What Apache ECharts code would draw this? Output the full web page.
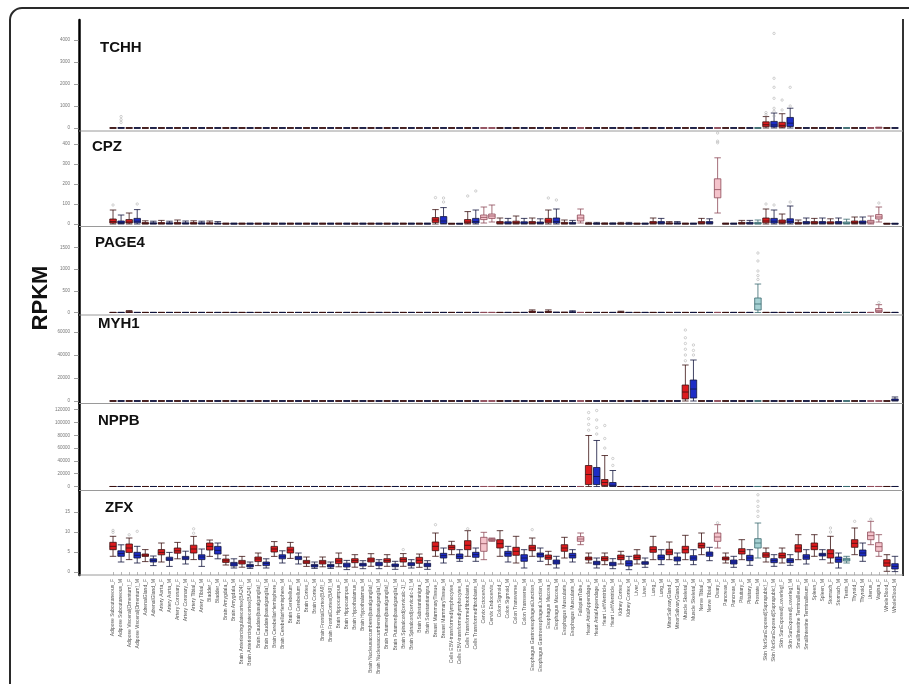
<!DOCTYPE html>
<html><head><meta charset="utf-8">
<script src="https://cdn.jsdelivr.net/npm/echarts@6/dist/echarts.min.js"></script>
<style>html,body{margin:0;padding:0;background:#fff}#c{width:909px;height:684px}</style>
</head><body><div id="c"></div>
<script>
const categories = ["Adipose Subcutaneous_F","Adipose Subcutaneous_M","Adipose Visceral(Omentum)_F","Adipose Visceral(Omentum)_M","AdrenalGland_F","AdrenalGland_M","Artery Aorta_F","Artery Aorta_M","Artery Coronary_F","Artery Coronary_M","Artery Tibial_F","Artery Tibial_M","Bladder_F","Bladder_M","Brain Amygdala_F","Brain Amygdala_M","Brain Anteriorcingulatecortex(BA24)_F","Brain Anteriorcingulatecortex(BA24)_M","Brain Caudate(basalganglia)_F","Brain Caudate(basalganglia)_M","Brain CerebellarHemisphere_F","Brain CerebellarHemisphere_M","Brain Cerebellum_F","Brain Cerebellum_M","Brain Cortex_F","Brain Cortex_M","Brain FrontalCortex(BA9)_F","Brain FrontalCortex(BA9)_M","Brain Hippocampus_F","Brain Hippocampus_M","Brain Hypothalamus_F","Brain Hypothalamus_M","Brain Nucleusaccumbens(basalganglia)_F","Brain Nucleusaccumbens(basalganglia)_M","Brain Putamen(basalganglia)_F","Brain Putamen(basalganglia)_M","Brain Spinalcord(cervicalc-1)_F","Brain Spinalcord(cervicalc-1)_M","Brain Substantianigra_F","Brain Substantianigra_M","Breast MammaryTissue_F","Breast MammaryTissue_M","Cells EBV-transformedlymphocytes_F","Cells EBV-transformedlymphocytes_M","Cells Transformedfibroblasts_F","Cells Transformedfibroblasts_M","Cervix Ectocervix_F","Cervix Endocervix_F","Colon Sigmoid_F","Colon Sigmoid_M","Colon Transverse_F","Colon Transverse_M","Esophagus GastroesophagealJunction_F","Esophagus GastroesophagealJunction_M","Esophagus Mucosa_F","Esophagus Mucosa_M","Esophagus Muscularis_F","Esophagus Muscularis_M","FallopianTube_F","Heart AtrialAppendage_F","Heart AtrialAppendage_M","Heart LeftVentricle_F","Heart LeftVentricle_M","Kidney Cortex_F","Kidney Cortex_M","Liver_F","Liver_M","Lung_F","Lung_M","MinorSalivaryGland_F","MinorSalivaryGland_M","Muscle Skeletal_F","Muscle Skeletal_M","Nerve Tibial_F","Nerve Tibial_M","Ovary_F","Pancreas_F","Pancreas_M","Pituitary_F","Pituitary_M","Prostate_M","Skin NotSunExposed(Suprapubic)_F","Skin NotSunExposed(Suprapubic)_M","Skin SunExposed(Lowerleg)_F","Skin SunExposed(Lowerleg)_M","SmallIntestine TerminalIleum_F","SmallIntestine TerminalIleum_M","Spleen_F","Spleen_M","Stomach_F","Stomach_M","Testis_M","Thyroid_F","Thyroid_M","Uterus_F","Vagina_F","WholeBlood_F","WholeBlood_M"];

const femaleOnly = ["Cervix Ectocervix_F","Cervix Endocervix_F","FallopianTube_F","Ovary_F","Uterus_F","Vagina_F"];
const maleOnly = ["Prostate_M","Testis_M"];

const ticksTCHH = [0,1000,2000,3000,4000];
const ticksCPZ = [0,100,200,300,400];
const ticksPAGE4 = [0,500,1000,1500];
const ticksMYH1 = [0,20000,40000,60000];
const ticksNPPB = [0,20000,40000,60000,80000,100000,120000];
const ticksZFX = [0,5,10,15];

// [min, Q1, median, Q3, max]
const boxTCHH = [
[0,0,0,1,3],[0,0,1,3,12],[0,0,0,1,3],[0,0,1,2,5],[0,0,0,1,3],[0,0,0,1,3],[0,0,0,1,3],[0,0,0,1,3],[0,0,0,1,3],[0,0,0,1,3],
[0,0,0,1,3],[0,0,0,1,3],[0,0,0,1,3],[0,0,0,1,3],[0,0,0,1,2],[0,0,0,1,2],[0,0,0,1,2],[0,0,0,1,2],[0,0,0,1,2],[0,0,0,1,2],
[0,0,0,1,2],[0,0,0,1,2],[0,0,0,1,2],[0,0,0,1,2],[0,0,0,1,2],[0,0,0,1,2],[0,0,0,1,2],[0,0,0,1,2],[0,0,0,1,2],[0,0,0,1,2],
[0,0,0,1,2],[0,0,0,1,2],[0,0,0,1,2],[0,0,0,1,2],[0,0,0,1,2],[0,0,0,1,2],[0,0,0,1,2],[0,0,0,1,2],[0,0,0,1,2],[0,0,0,1,2],
[0,0,0,1,3],[0,0,0,1,3],[0,0,0,1,3],[0,0,0,1,3],[0,0,0,1,3],[0,0,0,1,3],[0,0,0,1,3],[0,0,0,1,3],[0,0,0,1,3],[0,0,0,1,3],
[0,0,0,1,3],[0,0,0,1,3],[0,0,0,1,3],[0,0,0,1,3],[0,0,0,1,3],[0,0,0,1,3],[0,0,0,1,3],[0,0,0,1,3],[0,0,0,1,3],[0,0,0,1,3],
[0,0,0,1,3],[0,0,0,1,3],[0,0,0,1,3],[0,0,0,1,3],[0,0,0,1,3],[0,0,0,1,3],[0,0,0,1,3],[0,0,0,1,3],[0,0,0,1,3],[0,0,0,1,3],
[0,0,0,1,3],[0,0,0,1,3],[0,0,0,1,3],[0,0,0,1,3],[0,0,0,1,3],[0,0,0,1,3],[0,0,0,1,3],[0,0,0,1,3],[0,0,0,1,3],[0,0,0,1,3],
[0,0,0,1,3],[0,60,150,280,520],[0,50,140,300,680],[0,40,120,260,650],[0,70,220,480,900],[0,0,0,1,3],[0,0,0,1,3],[0,0,0,1,3],[0,0,0,1,3],[0,0,0,1,3],
[0,0,0,1,3],[0,0,0,1,3],[0,0,0,1,3],[0,0,0,1,3],[0,0,1,2,6],[0,2,6,15,40],[0,0,0,1,3],[0,0,0,1,3]
];
const outTCHH = [[1,250],[1,380],[1,520],[81,600],[81,700],[82,545],[82,760],[82,895],[82,1350],[82,1850],[82,2260],[82,4300],[83,820],[83,1270],[84,1000],[84,1850]];

const boxCPZ = [
[0,5,12,25,70],[0,3,8,15,45],[0,5,10,22,55],[0,6,14,28,72],[0,1,3,7,16],[0,1,3,6,14],[0,1,3,7,18],[0,1,3,6,14],[0,1,4,8,20],[0,1,3,6,15],
[0,1,3,7,16],[0,1,3,6,14],[0,1,3,6,15],[0,1,2,5,12],[0,0,1,2,5],[0,0,1,2,5],[0,0,1,2,5],[0,0,1,2,5],[0,0,1,2,5],[0,0,1,2,5],
[0,0,1,2,5],[0,0,1,2,5],[0,0,1,2,5],[0,0,1,2,5],[0,0,1,2,5],[0,0,1,2,5],[0,0,1,2,5],[0,0,1,2,5],[0,0,1,2,5],[0,0,1,2,5],
[0,0,1,2,5],[0,0,1,2,5],[0,0,1,2,5],[0,0,1,2,5],[0,0,1,2,5],[0,0,1,2,5],[0,0,1,2,5],[0,0,1,2,5],[0,0,1,2,5],[0,0,1,2,5],
[0,8,20,32,72],[0,3,15,37,82],[0,0,1,2,4],[0,0,1,2,4],[0,4,10,22,62],[0,5,12,28,70],[5,22,33,45,85],[10,28,40,50,95],[0,2,6,12,30],[0,2,5,11,28],
[0,2,7,14,40],[0,2,5,11,28],[0,2,6,12,30],[0,2,5,10,26],[0,6,15,28,70],[0,5,13,30,75],[0,1,4,8,20],[0,1,4,8,18],[5,15,30,45,75],[0,0,1,3,8],
[0,0,1,3,8],[0,0,1,2,6],[0,0,1,2,6],[0,0,1,3,8],[0,0,1,3,8],[0,0,1,2,5],[0,0,1,2,5],[0,2,6,12,30],[0,2,6,12,28],[0,1,3,6,12],
[0,1,3,6,12],[0,0,1,2,5],[0,0,1,2,5],[0,2,6,12,28],[0,2,6,12,26],[55,131,172,226,331],[0,0,1,2,5],[0,0,1,2,5],[0,1,4,8,18],[0,1,4,8,18],
[0,1,4,8,20],[0,6,15,30,75],[0,5,14,28,70],[0,4,10,20,50],[0,5,13,26,90],[0,1,4,8,20],[0,2,6,12,30],[0,2,6,12,28],[0,2,6,12,30],[0,2,5,11,26],
[0,2,6,12,30],[0,2,5,10,24],[0,3,8,15,35],[0,3,8,15,35],[0,4,10,18,40],[10,25,35,47,85],[0,0,1,2,4],[0,0,1,2,4]
];
const outCPZ = [[0,95],[3,100],[40,132],[41,110],[41,130],[44,140],[45,165],[54,130],[55,120],[75,406],[75,414],[75,455],[81,100],[82,95],[84,110],[95,105]];

const boxPAGE4 = [
[0,0,0,1,3],[0,0,0,1,3],[0,3,8,20,45],[0,0,0,1,3],[0,0,0,1,3],[0,0,0,1,3],[0,0,0,1,3],[0,0,0,1,3],[0,0,0,1,3],[0,0,0,1,3],
[0,0,0,1,3],[0,0,0,1,3],[0,0,0,1,3],[0,0,0,1,3],[0,0,0,1,3],[0,0,0,1,3],[0,0,0,1,3],[0,0,0,1,3],[0,0,0,1,3],[0,0,0,1,3],
[0,0,0,1,3],[0,0,0,1,3],[0,0,0,1,3],[0,0,0,1,3],[0,0,0,1,3],[0,0,0,1,3],[0,0,0,1,3],[0,0,0,1,3],[0,0,0,1,3],[0,0,0,1,3],
[0,0,0,1,3],[0,0,0,1,3],[0,0,0,1,3],[0,0,0,1,3],[0,0,0,1,3],[0,0,0,1,3],[0,0,0,1,3],[0,0,0,1,3],[0,0,0,1,3],[0,0,0,1,3],
[0,0,0,1,3],[0,0,0,1,3],[0,0,0,1,3],[0,0,0,1,3],[0,0,0,1,3],[0,0,0,1,3],[0,0,0,1,3],[0,0,0,1,3],[0,0,0,1,3],[0,0,0,1,3],
[0,0,0,1,3],[0,0,0,1,3],[0,5,15,30,60],[0,0,1,3,8],[0,5,12,25,60],[0,0,1,3,8],[0,0,1,3,8],[0,3,8,15,40],[0,0,0,1,3],[0,0,0,1,3],
[0,0,0,1,3],[0,0,0,1,3],[0,0,0,1,3],[0,2,6,12,30],[0,0,0,1,3],[0,0,0,1,3],[0,0,0,1,3],[0,0,0,1,3],[0,0,0,1,3],[0,0,0,1,3],
[0,0,0,1,3],[0,0,0,1,3],[0,0,0,1,3],[0,0,0,1,3],[0,0,0,1,3],[0,0,0,1,3],[0,0,0,1,3],[0,0,0,1,3],[0,0,0,1,3],[0,0,0,1,3],
[0,58,196,334,656],[0,0,0,1,3],[0,0,0,1,3],[0,0,0,1,3],[0,0,0,1,3],[0,0,0,1,3],[0,0,0,1,3],[0,0,0,1,3],[0,0,0,1,3],[0,0,0,1,3],
[0,0,0,1,3],[0,0,0,1,3],[0,0,0,1,3],[0,0,0,1,3],[0,0,0,1,3],[0,15,40,90,180],[0,0,0,1,3],[0,0,0,1,3]
];
const outPAGE4 = [[80,760],[80,850],[80,956],[80,1187],[80,1370],[95,230]];

const boxMYH1 = [
[0,0,2,8,30],[0,0,2,8,30],[0,0,2,8,30],[0,0,2,8,30],[0,0,2,8,30],[0,0,2,8,30],[0,0,2,8,30],[0,0,2,8,30],[0,0,2,8,30],[0,0,2,8,30],
[0,0,2,8,30],[0,0,2,8,30],[0,0,2,8,30],[0,0,2,8,30],[0,0,2,8,30],[0,0,2,8,30],[0,0,2,8,30],[0,0,2,8,30],[0,0,2,8,30],[0,0,2,8,30],
[0,0,2,8,30],[0,0,2,8,30],[0,0,2,8,30],[0,0,2,8,30],[0,0,2,8,30],[0,0,2,8,30],[0,0,2,8,30],[0,0,2,8,30],[0,0,2,8,30],[0,0,2,8,30],
[0,0,2,8,30],[0,0,2,8,30],[0,0,2,8,30],[0,0,2,8,30],[0,0,2,8,30],[0,0,2,8,30],[0,0,2,8,30],[0,0,2,8,30],[0,0,2,8,30],[0,0,2,8,30],
[0,0,2,8,30],[0,0,2,8,30],[0,0,2,8,30],[0,0,2,8,30],[0,0,2,8,30],[0,0,2,8,30],[0,0,2,8,30],[0,0,2,8,30],[0,0,2,8,30],[0,0,2,8,30],
[0,0,2,8,30],[0,0,2,8,30],[0,0,2,8,30],[0,0,2,8,30],[0,0,2,8,30],[0,0,2,8,30],[0,0,2,8,30],[0,0,2,8,30],[0,0,2,8,30],[0,0,2,8,30],
[0,0,2,8,30],[0,0,2,8,30],[0,0,2,8,30],[0,0,2,8,30],[0,0,2,8,30],[0,0,2,8,30],[0,0,2,8,30],[0,0,2,8,30],[0,0,2,8,30],[0,0,2,8,30],
[0,0,2,8,30],[0,1740,7800,13900,31300],[0,2600,10400,18260,35650],[0,0,2,8,30],[0,0,2,8,30],[0,0,2,8,30],[0,0,2,8,30],[0,0,2,8,30],[0,0,2,8,30],[0,0,2,8,30],
[0,0,2,8,30],[0,0,2,8,30],[0,0,2,8,30],[0,0,2,8,30],[0,0,2,8,30],[0,0,2,8,30],[0,0,2,8,30],[0,0,2,8,30],[0,0,2,8,30],[0,0,2,8,30],
[0,0,2,8,30],[0,0,2,8,30],[0,0,2,8,30],[0,0,2,8,30],[0,0,2,8,30],[0,0,2,8,30],[0,0,2,8,30],[0,300,800,1800,3500]
];
const outMYH1 = [[71,35000],[71,40000],[71,45000],[71,50000],[71,55000],[71,61700],[72,40000],[72,44000],[72,48700]];

const boxNPPB = [
[0,0,1,5,20],[0,0,1,5,20],[0,0,1,5,20],[0,0,1,5,20],[0,0,1,5,20],[0,0,1,5,20],[0,0,1,5,20],[0,0,1,5,20],[0,0,1,5,20],[0,0,1,5,20],
[0,0,1,5,20],[0,0,1,5,20],[0,0,1,5,20],[0,0,1,5,20],[0,0,1,5,20],[0,0,1,5,20],[0,0,1,5,20],[0,0,1,5,20],[0,0,1,5,20],[0,0,1,5,20],
[0,0,1,5,20],[0,0,1,5,20],[0,0,1,5,20],[0,0,1,5,20],[0,0,1,5,20],[0,0,1,5,20],[0,0,1,5,20],[0,0,1,5,20],[0,0,1,5,20],[0,0,1,5,20],
[0,0,1,5,20],[0,0,1,5,20],[0,0,1,5,20],[0,0,1,5,20],[0,0,1,5,20],[0,0,1,5,20],[0,0,1,5,20],[0,0,1,5,20],[0,0,1,5,20],[0,0,1,5,20],
[0,0,1,5,20],[0,0,1,5,20],[0,0,1,5,20],[0,0,1,5,20],[0,0,1,5,20],[0,0,1,5,20],[0,0,1,5,20],[0,0,1,5,20],[0,0,1,5,20],[0,0,1,5,20],
[0,0,1,5,20],[0,0,1,5,20],[0,0,1,5,20],[0,0,1,5,20],[0,0,1,5,20],[0,0,1,5,20],[0,0,1,5,20],[0,0,1,5,20],[0,0,1,5,20],[0,3100,18750,32800,79700],
[0,3100,15600,29700,71900],[0,1500,6250,10900,48400],[0,500,2000,6250,25000],[0,0,1,5,20],[0,0,1,5,20],[0,0,1,5,20],[0,0,1,5,20],[0,0,1,5,20],[0,0,1,5,20],[0,0,1,5,20],
[0,0,1,5,20],[0,0,1,5,20],[0,0,1,5,20],[0,0,1,5,20],[0,0,1,5,20],[0,0,1,5,20],[0,0,1,5,20],[0,0,1,5,20],[0,0,1,5,20],[0,0,1,5,20],
[0,0,1,5,20],[0,0,1,5,20],[0,0,1,5,20],[0,0,1,5,20],[0,0,1,5,20],[0,0,1,5,20],[0,0,1,5,20],[0,0,1,5,20],[0,0,1,5,20],[0,0,1,5,20],
[0,0,1,5,20],[0,0,1,5,20],[0,0,1,5,20],[0,0,1,5,20],[0,0,1,5,20],[0,0,1,5,20],[0,0,1,5,20],[0,0,1,5,20]
];
const outNPPB = [[59,88000],[59,97000],[59,106000],[59,115600],[60,82000],[60,92000],[60,104000],[60,118750],[61,60000],[61,75000],[61,95300],[62,33000],[62,43750]];

const boxZFX = [
[3.92,5.58,6.42,7.42,8.92],[2.5,3.92,4.6,5.3,6.8],[3.1,4.9,6.0,7.0,8.5],[2.25,3.5,4.17,4.92,6.42],[2.6,3.9,4.2,4.5,5.6],[1.6,2.5,2.9,3.3,4.0],[2.5,4.3,4.9,5.6,7.25],[1.4,2.9,3.25,3.7,4.9],[3.3,4.7,5.3,6.0,7.4],[2.0,3.1,3.5,3.9,5.2],
[3.1,4.75,5.75,6.7,8.9],[1.4,3.1,3.75,4.3,5.75],[3.9,5.5,6.4,7.25,8.0],[3.3,4.5,5.4,6.4,7.25],[1.75,2.4,2.8,3.25,4.2],[1.0,1.5,2.0,2.4,3.3],[1.2,2.0,2.5,2.9,3.9],[0.9,1.25,1.6,1.9,2.5],[1.6,2.6,3.25,3.75,4.75],[1.0,1.6,2.1,2.5,3.3],
[3.9,5.0,5.75,6.4,7.6],[2.25,3.3,3.8,4.3,5.3],[3.4,4.75,5.5,6.2,7.4],[2.0,3.1,3.5,3.9,4.75],[1.4,2.1,2.5,2.9,3.75],[0.9,1.25,1.6,1.9,2.5],[1.3,2.0,2.5,2.9,3.75],[0.9,1.25,1.6,1.9,2.5],[1.3,2.1,2.75,3.4,4.75],[0.6,1.25,1.75,2.2,2.9],
[1.2,2.33,2.83,3.33,4.33],[0.83,1.5,1.83,2.17,2.83],[1.42,2.5,3.0,3.5,4.58],[0.83,1.58,2.0,2.42,3.08],[1.42,2.42,2.83,3.33,4.33],[0.67,1.33,1.67,2.0,2.67],[1.42,2.5,3.08,3.58,4.6],[1.0,1.58,2.0,2.33,3.08],[1.17,2.17,2.92,3.67,4.5],[0.67,1.33,1.75,2.17,2.83],
[3.92,5.33,6.42,7.5,9.75],[2.25,3.5,4.08,4.67,6.0],[4.33,5.58,6.17,6.67,7.67],[2.67,3.33,3.92,4.5,5.58],[3.92,5.58,6.67,7.83,10.33],[2.67,3.67,4.33,4.92,6.0],[3.08,5.17,7.08,8.67,9.92],[7.67,7.83,8.08,8.33,8.5],[3.92,6.0,7.08,8.08,10.33],[2.5,3.92,4.58,5.17,6.42],
[2.25,4.17,5.17,6.17,8.92],[1.0,2.67,3.5,4.33,5.58],[3.92,5.33,6.0,6.67,8.5],[2.67,3.75,4.33,4.75,6.0],[1.83,3.17,3.67,4.25,5.17],[1.0,2.0,2.5,3.0,3.92],[3.5,5.17,6.0,6.83,8.67],[2.5,3.5,4.08,4.67,5.58],[6.83,7.67,8.25,8.83,9.75],[2.25,3.0,3.42,3.75,4.75],
[1.0,1.83,2.25,2.67,3.5],[1.83,2.83,3.33,3.83,4.75],[0.83,1.58,2.0,2.42,3.33],[2.0,3.08,3.67,4.25,5.17],[0.58,1.5,2.17,2.83,3.92],[2.0,3.08,3.67,4.25,5.58],[1.17,1.92,2.25,2.58,3.5],[3.08,4.92,5.58,6.33,8.92],[1.83,3.08,3.67,4.25,5.58],[3.08,4.33,5.0,5.67,7.5],
[1.83,2.75,3.25,3.75,4.75],[3.08,4.75,5.58,6.42,9.17],[1.83,2.92,3.5,4.08,5.58],[4.33,6.0,6.58,7.25,9.75],[2.83,3.92,4.5,5.0,6.17],[6.0,7.67,8.75,9.75,11.83],[2.25,3.0,3.42,3.75,4.75],[1.17,2.0,2.5,3.0,3.92],[3.08,4.5,5.17,5.83,8.08],[1.67,2.83,3.5,4.17,5.58],
[3.5,6.0,7.25,8.33,12.25],[2.5,3.67,4.25,4.83,6.0],[1.42,2.33,2.83,3.33,4.33],[2.25,3.5,4.08,4.75,6.0],[1.67,2.33,2.83,3.33,4.33],[3.08,5.0,6.0,6.83,9.33],[2.0,3.17,3.75,4.33,5.58],[3.92,5.58,6.42,7.25,9.33],[3.08,4.0,4.33,4.67,5.58],[2.25,3.5,4.58,5.58,8.92],
[1.0,2.42,3.08,3.75,4.75],[2.25,2.75,3.08,3.42,3.92],[4.33,6.17,7.17,8.08,11.0],[2.67,4.0,4.75,5.5,7.25],[6.83,8.08,9.08,10.0,12.67],[3.92,5.17,6.33,7.33,9.33],[0.17,1.42,2.25,3.08,4.33],[0.1,0.75,1.42,2.08,3.92]
];
const outZFX = [[0,9.9],[0,10.4],[2,9.3],[3,10.17],[10,9.7],[10,10.8],[36,5.6],[40,11.83],[44,10.8],[52,10.58],[75,12.3],[80,13.9],[80,15.2],[80,16.4],[80,17.7],[80,19.3],[89,10],[89,11],[92,12.67],[94,13.2]];

// ---- layout ----
const H = 684;
const panels = [
  {gene:'TCHH',  box:boxTCHH,  out:outTCHH,  ticks:ticksTCHH,  top:20,    bottom:131,   min:-136,  max:4909,   tx:100, ty:40},
  {gene:'CPZ',   box:boxCPZ,   out:outCPZ,   ticks:ticksCPZ,   top:131,   bottom:226.5, min:-12.5, max:465,    tx:92,  ty:139},
  {gene:'PAGE4', box:boxPAGE4, out:outPAGE4, ticks:ticksPAGE4, top:226.5, bottom:315,   min:-57.6, max:1981,   tx:95,  ty:235.5},
  {gene:'MYH1',  box:boxMYH1,  out:outMYH1,  ticks:ticksMYH1,  top:315,   bottom:403.5, min:-2174, max:74786,  tx:98,  ty:316.5},
  {gene:'NPPB',  box:boxNPPB,  out:outNPPB,  ticks:ticksNPPB,  top:403.5, bottom:490.5, min:-6250, max:129688, tx:98,  ty:413},
  {gene:'ZFX',   box:boxZFX,   out:outZFX,   ticks:ticksZFX,   top:490.5, bottom:575,   min:-0.75, max:20.375, tx:105, ty:500.5}
];
const FRAME_L = 79, FRAME_R = 903;

function styleFor(name){
  if (femaleOnly.indexOf(name) >= 0) return {color:'#f4c3cb', borderColor:'#8e4a58'};
  if (maleOnly.indexOf(name) >= 0) return {color:'#a6d1d3', borderColor:'#3a6a70'};
  if (/_F$/.test(name)) return {color:'#dc1b1e', borderColor:'#3b1212'};
  return {color:'#1e2dc6', borderColor:'#12143c'};
}

const last = panels.length - 1;
const series = [];
panels.forEach((p, i) => {
  series.push({
    type:'boxplot', xAxisIndex:i, yAxisIndex:i, silent:true,
    boxWidth:[6.5, 6.5],
    itemStyle:{borderWidth:0.8},
    data: p.box.map((v, j) => ({value:v, itemStyle:styleFor(categories[j])}))
  });
  series.push({
    type:'scatter', xAxisIndex:i, yAxisIndex:i, silent:true,
    symbol:'circle', symbolSize:2.4,
    itemStyle:{color:'rgba(255,255,255,0)', borderColor:'#a0a0a0', borderWidth:0.6},
    data: p.out
  });
});

const graphics = [
  {type:'rect', silent:true, z:100, shape:{x:10, y:8, width:940, height:720, r:12}, style:{fill:'none', stroke:'#2a2a2a', lineWidth:2}},
  {type:'line', silent:true, z:100, shape:{x1:FRAME_R, y1:19, x2:FRAME_R, y2:576}, style:{stroke:'#333', lineWidth:2}},
  {type:'text', silent:true, z:100, x:41, y:298, rotation:Math.PI/2,
   style:{text:'RPKM', font:'bold 22px "Liberation Sans", Arial, sans-serif', fill:'#111', align:'center', verticalAlign:'middle'}}
];
panels.forEach(p => {
  graphics.push({type:'line', silent:true, z:100, shape:{x1:FRAME_L, y1:p.bottom, x2:FRAME_R, y2:p.bottom}, style:{stroke:'#9a9a9a', lineWidth:1}});
});

const option = {
  animation:false,
  backgroundColor:'#ffffff',
  textStyle:{fontFamily:'"Liberation Sans", Arial, sans-serif'},
  title: panels.map(p => ({
    text:p.gene, left:p.tx, top:p.ty, padding:0,
    textStyle:{fontFamily:'"Liberation Sans", Arial, sans-serif', fontWeight:'bold', fontSize:15, color:'#111'}
  })),
  grid: panels.map(p => ({left:109, right:10, top:p.top, bottom:H - p.bottom})),
  xAxis: panels.map((p, i) => ({
    type:'category', gridIndex:i, data:categories, boundaryGap:true,
    axisLine:{show:false},
    axisTick: i === last ? {show:true, alignWithLabel:true, interval:0, length:3, lineStyle:{color:'#888', width:0.6}} : {show:false},
    axisLabel: i === last ? {show:true, interval:0, rotate:90, fontSize:5, color:'#555', margin:4} : {show:false},
    splitLine:{show:false}
  })),
  yAxis: panels.map((p, i) => ({
    type:'value', gridIndex:i, min:p.min, max:p.max, offset:30,
    axisLine:{show:true, lineStyle:{color:'#000', width:2.5}},
    axisTick:{show:true, length:5, customValues:p.ticks, lineStyle:{color:'#777', width:0.7}},
    axisLabel:{show:true, customValues:p.ticks, fontSize:4.5, color:'#777', margin:9, formatter: v => String(v)},
    splitLine:{show:false}
  })),
  graphic: graphics,
  series: series
};

const chart = echarts.init(document.getElementById('c'), null, {renderer:'canvas'});
chart.setOption(option);
</script>
</body></html>
